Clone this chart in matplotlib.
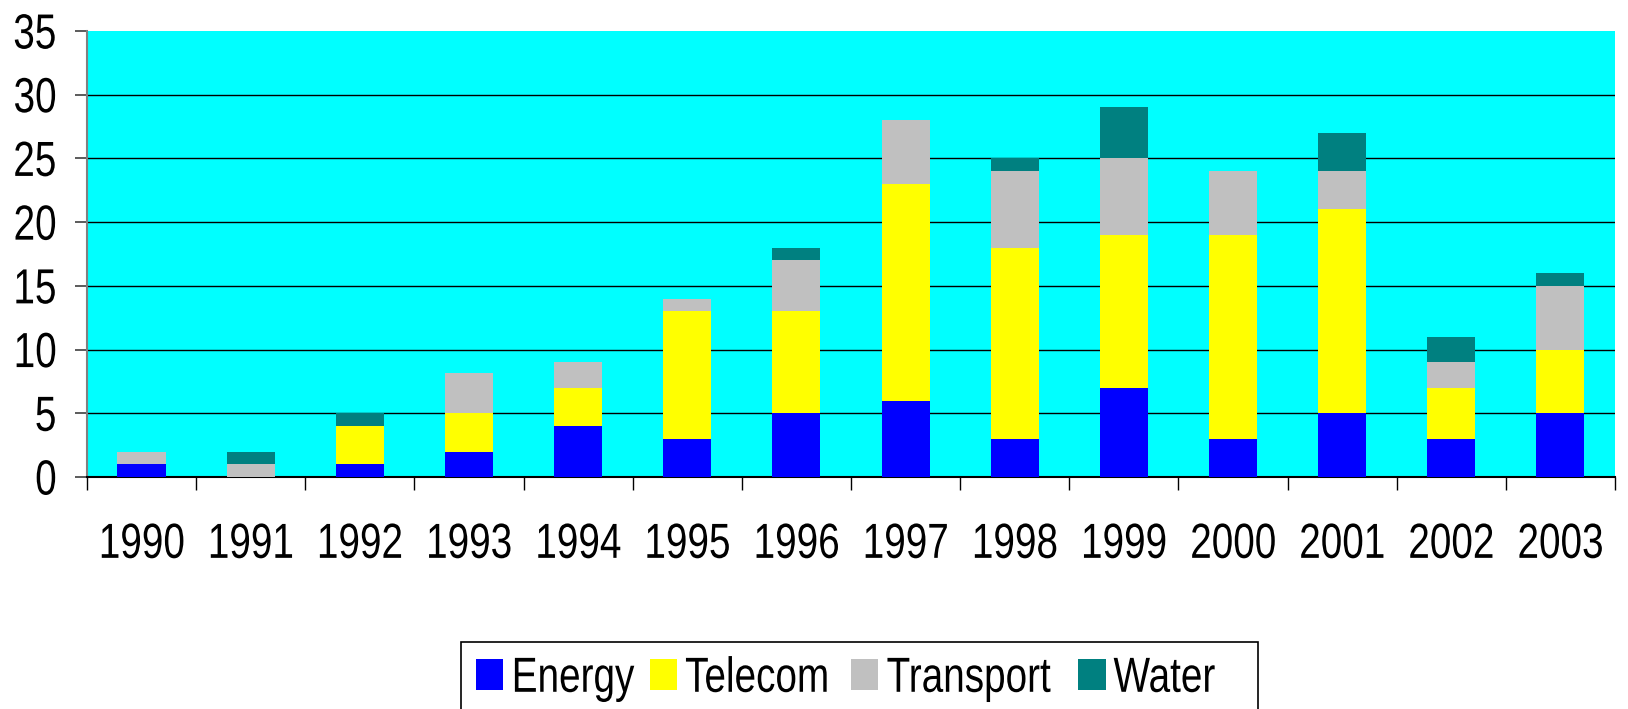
import matplotlib
matplotlib.use('Agg')
import matplotlib.pyplot as plt
from matplotlib.ticker import FixedLocator
from matplotlib.patheffects import AbstractPathEffect
from matplotlib.transforms import Affine2D
import numpy as np

years = ['1990', '1991', '1992', '1993', '1994', '1995', '1996',
         '1997', '1998', '1999', '2000', '2001', '2002', '2003']
energy = [1, 0, 1, 2, 4, 3, 5, 6, 3, 7, 3, 5, 3, 5]
telecom = [0, 0, 3, 3, 3, 10, 8, 17, 15, 12, 16, 16, 4, 5]
transport = [1, 1, 0, 3.2, 2, 1, 4, 5, 6, 6, 5, 3, 2, 5]
water = [0, 1, 1, 0, 0, 0, 1, 0, 1, 4, 0, 3, 2, 1]

series = [('Energy', energy, '#0000FF'),
          ('Telecom', telecom, '#FFFF00'),
          ('Transport', transport, '#C0C0C0'),
          ('Water', water, '#008080')]


class Narrow(AbstractPathEffect):
    # squeeze text horizontally, the original uses a narrow Arial-like face
    def __init__(self, sx=0.8, anchor='center'):
        super().__init__()
        self.sx = sx
        self.anchor = anchor

    def draw_path(self, renderer, gc, tpath, affine, rgbFace=None):
        ext = tpath.get_extents()
        if self.anchor == 'center':
            x0 = (ext.x0 + ext.x1) / 2
        elif self.anchor == 'right':
            x0 = ext.x1
        else:
            x0 = ext.x0
        t = Affine2D().translate(-x0, 0).scale(self.sx, 1).translate(x0, 0) + affine
        renderer.draw_path(gc, tpath, t, rgbFace)


plt.rcParams['font.family'] = ['Liberation Sans', 'DejaVu Sans']
fsize = 35.5
squeeze = 0.785

fig = plt.figure(figsize=(16.28, 7.09), dpi=100)
ax = fig.add_axes([0.0534, 0.3272, 0.9386, 0.6291])
ax.set_facecolor('#00FFFF')

x = np.arange(len(years))
bottom = np.zeros(len(years))
for name, vals, col in series:
    vals = np.array(vals, dtype=float)
    ax.bar(x, vals, width=0.44, bottom=bottom, color=col, label=name,
           linewidth=0, zorder=3)
    bottom += vals

ax.set_xlim(-0.5, len(years) - 0.5)
ax.set_ylim(0, 35)
ax.set_yticks(range(0, 36, 5))
ax.tick_params(axis='y', labelsize=fsize, length=8.6, width=1.2,
               color='#404040', pad=13)

ax.set_xticks(x)
ax.set_xticklabels(years)
ax.xaxis.set_minor_locator(FixedLocator(np.arange(-0.5, len(years), 1)))
ax.tick_params(axis='x', which='major', length=0, labelsize=fsize, pad=33)
ax.tick_params(axis='x', which='minor', length=9.5, width=1.0, color='black')

for lab in ax.get_xticklabels():
    lab.set_path_effects([Narrow(squeeze, 'center')])
for lab in ax.get_yticklabels():
    lab.set_path_effects([Narrow(squeeze, 'right')])

ax.yaxis.grid(True, color='black', linewidth=1.0, zorder=1)
ax.set_axisbelow(True)
ax.get_ygridlines()[-1].set_visible(False)

for s in ['top', 'right']:
    ax.spines[s].set_visible(False)
ax.spines['left'].set_color('#808080')
ax.spines['left'].set_linewidth(1.5)
ax.spines['bottom'].set_color('black')
ax.spines['bottom'].set_linewidth(1.5)

leg = fig.legend(loc='upper left', bbox_to_anchor=(0.2832, 0.0945), ncol=4,
                 fontsize=fsize, frameon=True, fancybox=False, shadow=False,
                 handlelength=0.55, handleheight=0.61, handletextpad=0.16,
                 columnspacing=-0.35, borderpad=0.3, borderaxespad=0)
leg.get_frame().set_edgecolor('black')
leg.get_frame().set_linewidth(1.2)
leg.get_frame().set_alpha(1)
for t in leg.get_texts():
    t.set_path_effects([Narrow(squeeze, 'left')])

fig.savefig('out.png', dpi=100)
